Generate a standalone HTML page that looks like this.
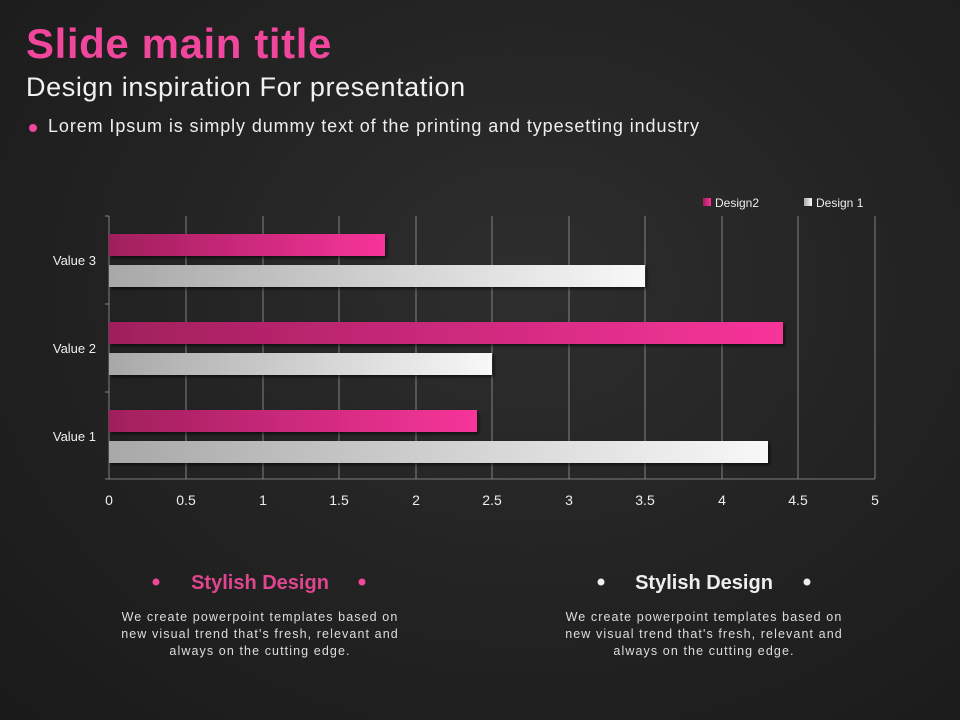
<!DOCTYPE html>
<html><head><meta charset="utf-8"><style>
body{margin:0;width:960px;height:720px;overflow:hidden;font-family:"Liberation Sans",sans-serif;
background:radial-gradient(ellipse at 55% 40%,#2e2e2e 0%,#232323 50%,#1a1a1a 100%);position:relative}
.t{position:absolute;white-space:nowrap}
.d{position:absolute;width:400px;text-align:center;font-size:12.5px;line-height:17px;color:#ddd;letter-spacing:1.1px;white-space:nowrap}
</style></head><body>
<div class="t" style="left:26px;top:20px;font-size:42px;font-weight:bold;color:#f0469c;letter-spacing:0.6px">Slide main title</div>
<div class="t" style="left:26px;top:72px;font-size:27px;color:#f2f2f2;letter-spacing:0.6px">Design inspiration For presentation</div>
<div class="t" style="left:29px;top:124px;width:8px;height:8px;border-radius:50%;background:#f0469c"></div>
<div class="t" style="left:48px;top:116px;font-size:18px;color:#eee;letter-spacing:0.9px">Lorem Ipsum is simply dummy text of the printing and typesetting industry</div>
<svg width="960" height="720" style="position:absolute;left:0;top:0">
<defs>
<linearGradient id="p" x1="0" x2="1"><stop offset="0" stop-color="#a01f5c"/><stop offset="1" stop-color="#f7349a"/></linearGradient>
<linearGradient id="g" x1="0" x2="1"><stop offset="0" stop-color="#a8a8a8"/><stop offset="1" stop-color="#f8f8f8"/></linearGradient>
<filter id="s"><feDropShadow dx="2" dy="2" stdDeviation="1.5" flood-color="#000" flood-opacity="0.6"/></filter>
</defs>
<g stroke="#9a9a9a" stroke-width="0.8">
<line x1="186" y1="216" x2="186" y2="479"/><line x1="263" y1="216" x2="263" y2="479"/>
<line x1="339" y1="216" x2="339" y2="479"/><line x1="416" y1="216" x2="416" y2="479"/>
<line x1="492" y1="216" x2="492" y2="479"/><line x1="569" y1="216" x2="569" y2="479"/>
<line x1="645" y1="216" x2="645" y2="479"/><line x1="722" y1="216" x2="722" y2="479"/>
<line x1="798" y1="216" x2="798" y2="479"/><line x1="875" y1="216" x2="875" y2="479"/>
<line x1="109" y1="216" x2="109" y2="479"/><line x1="109" y1="479" x2="875" y2="479"/>
<line x1="105" y1="216" x2="109" y2="216"/><line x1="105" y1="304" x2="109" y2="304"/>
<line x1="105" y1="392" x2="109" y2="392"/><line x1="105" y1="479" x2="109" y2="479"/>
</g>
<g filter="url(#s)">
<rect x="109" y="234" width="276" height="22" fill="url(#p)"/>
<rect x="109" y="265" width="536" height="22" fill="url(#g)"/>
<rect x="109" y="322" width="674" height="22" fill="url(#p)"/>
<rect x="109" y="353" width="383" height="22" fill="url(#g)"/>
<rect x="109" y="410" width="368" height="22" fill="url(#p)"/>
<rect x="109" y="441" width="659" height="22" fill="url(#g)"/>
</g>
<g fill="#eee" font-size="13" font-family="Liberation Sans,sans-serif">
<text x="96" y="265" text-anchor="end">Value 3</text>
<text x="96" y="353" text-anchor="end">Value 2</text>
<text x="96" y="441" text-anchor="end">Value 1</text>
</g>
<g fill="#eee" font-size="14" text-anchor="middle" font-family="Liberation Sans,sans-serif">
<text x="109" y="505">0</text><text x="186" y="505">0.5</text><text x="263" y="505">1</text>
<text x="339" y="505">1.5</text><text x="416" y="505">2</text><text x="492" y="505">2.5</text>
<text x="569" y="505">3</text><text x="645" y="505">3.5</text><text x="722" y="505">4</text>
<text x="798" y="505">4.5</text><text x="875" y="505">5</text>
</g>
<rect x="703" y="198" width="8" height="8" fill="url(#p)"/>
<rect x="804" y="198" width="8" height="8" fill="url(#g)"/>
<g fill="#eee" font-size="12" font-family="Liberation Sans,sans-serif">
<text x="715" y="207">Design2</text><text x="816" y="207">Design 1</text>
</g>
<circle cx="156" cy="582" r="3.5" fill="#f0469c"/><circle cx="362" cy="582" r="3.5" fill="#f0469c"/>
<circle cx="601" cy="582" r="3.5" fill="#eee"/><circle cx="807" cy="582" r="3.5" fill="#eee"/>
</svg>
<div class="t" style="left:160px;width:200px;top:572px;text-align:center;font-size:20px;font-weight:bold;color:#e0458f">Stylish Design</div>
<div class="t" style="left:604px;width:200px;top:572px;text-align:center;font-size:20px;font-weight:bold;color:#eee">Stylish Design</div>
<div class="d" style="left:60px;top:609px">We create powerpoint templates based on<br>new visual trend that's fresh, relevant and<br>always on the cutting edge.</div>
<div class="d" style="left:504px;top:609px">We create powerpoint templates based on<br>new visual trend that's fresh, relevant and<br>always on the cutting edge.</div>
</body></html>
